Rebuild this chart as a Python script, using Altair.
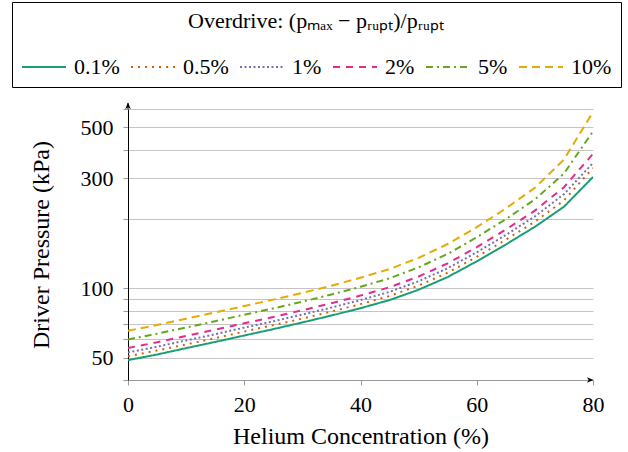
import altair as alt
import pandas as pd

# Helium concentration (%)
helium = [0, 5, 10, 15, 20, 25, 30, 35, 40, 45, 50, 55, 60, 65, 70, 75, 80]

# Driver pressure (kPa) for each overdrive level
p_01 = [48.8, 51.6, 55.0, 58.5, 62.4, 66.5, 71.1, 76.2, 82.0, 88.9, 98.6, 111.9, 130.9, 154.9, 184.9, 225.9, 304.1]
p_05 = [50.7, 53.7, 57.1, 60.8, 64.9, 69.2, 73.9, 79.3, 85.4, 92.6, 102.8, 116.9, 136.9, 162.5, 194.7, 240.6, 332.7]
p_1 = [52.7, 55.8, 59.4, 63.2, 67.5, 71.9, 76.9, 82.5, 88.9, 96.5, 107.3, 122.2, 143.3, 170.4, 205.1, 256.2, 350.0]
p_2 = [55.1, 58.3, 62.1, 66.1, 70.5, 75.1, 80.3, 86.2, 93.0, 101.1, 112.5, 128.4, 150.8, 179.8, 217.3, 274.7, 383.5]
p_5 = [60.0, 63.5, 67.6, 72.0, 76.8, 81.8, 87.5, 94.0, 101.5, 110.5, 123.3, 141.1, 166.5, 199.5, 243.1, 314.7, 479.9]
p_10 = [65.5, 69.3, 73.8, 78.6, 83.8, 89.3, 95.5, 102.6, 111.1, 121.2, 135.6, 155.7, 184.3, 222.0, 272.9, 362.1, 581.7]

series_labels = ["0.1%", "0.5%", "1%", "2%", "5%", "10%"]
series_values = [p_01, p_05, p_1, p_2, p_5, p_10]
colors = ["#1b9e77", "#d95f02", "#7570b3", "#e7298a", "#66a61e", "#e6ab02"]
dashes = [[1, 0], [2, 5], [2, 2.5], [7, 6], [7, 4, 2, 4], [8, 5]]

x_ticks = [0, 20, 40, 60, 80]
y_ticks = [40, 50, 60, 70, 80, 90, 100, 200, 300, 400, 500, 600]

rows = []
for lab, vals in zip(series_labels, series_values):
    for h, p in zip(helium, vals):
        rows.append({"helium": h, "pressure": p, "overdrive": lab})
df = pd.DataFrame(rows)

FONT = "Liberation Serif"
legend_title = "Overdrive: (pₘₐₓ − pᵣᵤₚₜ)/pᵣᵤₚₜ"

legend = alt.Legend(
    title=legend_title,
    orient="none",
    legendX=-116,
    legendY=-107,
    direction="horizontal",
    columns=6,
    titleAnchor="middle",
    titleFont=FONT,
    titleFontSize=22,
    titleFontWeight="normal",
    titleColor="black",
    titlePadding=11,
    titleLimit=600,
    labelFont=FONT,
    labelFontSize=22,
    labelColor="black",
    labelOffset=7,
    labelLimit=200,
    columnPadding=7,
    symbolType="stroke",
    symbolSize=1936,
    symbolStrokeWidth=2,
    fillColor="white",
    strokeColor="black",
    padding=9,
)

x_scale = alt.Scale(domain=[0, 80], nice=False)
y_scale = alt.Scale(type="log", domain=[40, 600], nice=False)

lines = alt.Chart(df).mark_line(strokeWidth=2, clip=True).encode(
    x=alt.X(
        "helium:Q",
        scale=x_scale,
        axis=alt.Axis(
            title="Helium Concentration (%)",
            values=x_ticks,
            grid=False,
            domainColor="#999999",
            tickColor="#999999",
            tickSize=5,
            labelPadding=9,
            titlePadding=9,
            labelFlush=False,
        ),
    ),
    y=alt.Y(
        "pressure:Q",
        scale=y_scale,
        axis=alt.Axis(
            title="Driver Pressure (kPa)",
            values=y_ticks,
            format="d",
            labelExpr="indexof([50, 100, 300, 500], datum.value) >= 0 ? datum.label : ''",
            grid=True,
            gridColor="#c4c4c4",
            gridWidth=1.2,
            domainColor="black",
            tickColor="#999999",
            tickSize=5,
            labelPadding=10,
            titlePadding=27,
            labelFlush=False,
        ),
    ),
    color=alt.Color("overdrive:N", scale=alt.Scale(domain=series_labels, range=colors), legend=legend),
    strokeDash=alt.StrokeDash("overdrive:N", scale=alt.Scale(domain=series_labels, range=dashes), legend=legend),
)

# axis arrow decorations
y_end = pd.DataFrame({"helium": [0], "pressure": [600]})
x_end = pd.DataFrame({"helium": [80], "pressure": [40]})
arrow_path = "M0,-1L0.8,0.9L0,0.35L-0.8,0.9Z"

y_ext = alt.Chart(y_end).mark_rule(color="black", strokeWidth=1, y2Offset=-6).encode(
    x="helium:Q", y="pressure:Q", y2="pressure:Q"
)
y_arrow = alt.Chart(y_end).mark_point(
    shape=arrow_path, filled=True, color="black", size=50, opacity=1, yOffset=-3
).encode(x="helium:Q", y="pressure:Q")
x_arrow = alt.Chart(x_end).mark_point(
    shape=arrow_path, filled=True, color="black", size=50, opacity=1, angle=90, xOffset=-3
).encode(x="helium:Q", y="pressure:Q")

chart = (
    alt.layer(lines, y_ext, y_arrow, x_arrow)
    .properties(
        width=465,
        height=271,
        padding={"left": 128, "top": 109, "right": 35, "bottom": 72},
        autosize=alt.AutoSizeParams(type="none"),
        background="white",
    )
    .configure_axis(
        labelFont=FONT,
        labelFontSize=22,
        labelColor="black",
        titleFont=FONT,
        titleFontSize=24,
        titleFontWeight="normal",
        titleColor="black",
    )
    .configure_view(stroke=None)
)

chart.save("out.html", embed_options={"renderer": "svg", "actions": False})
